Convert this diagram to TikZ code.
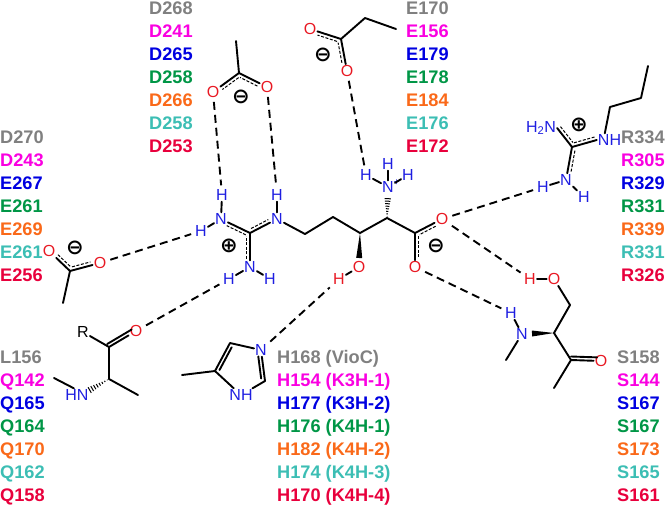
\documentclass[tikz,border=0pt]{standalone}
\usepackage{fontspec}
\setmainfont{Liberation Sans}
\newfontfamily\chargefont{DejaVu Sans}
\usetikzlibrary{calc}
\definecolor{resmag}{RGB}{250,0,225}
\definecolor{resblue}{RGB}{0,0,225}
\definecolor{resgreen}{RGB}{0,150,70}
\definecolor{resorange}{RGB}{250,105,25}
\definecolor{resteal}{RGB}{60,190,180}
\definecolor{rescrim}{RGB}{232,0,60}
\definecolor{atomred}{RGB}{232,25,35}
\definecolor{atomblue}{RGB}{30,30,225}
\tikzset{
	res/.style={anchor=base west, inner sep=0pt, font=\fontsize{18.2}{20}\selectfont\bfseries},
	atom/.style={inner sep=1pt, font=\fontsize{16}{17}\selectfont},
	oatom/.style={atom, text=atomred},
	natom/.style={atom, text=atomblue},
	charge/.style={inner sep=0pt, font=\fontsize{21}{22}\selectfont\chargefont\bfseries},
	bond/.style={line width=1.9pt, line cap=round, line join=round},
	hbond/.style={line width=1.9pt, dash pattern=on 8pt off 5pt, shorten <=3pt, shorten >=3pt},
	deloc/.style={line width=1pt, dash pattern=on 3pt off 1.6pt, shorten <=3pt, shorten >=3pt}
}
\def\sidebond[#1](#2)(#3){\draw[#1] ($(#2)!3.5pt!90:(#3)$) -- ($(#3)!3.5pt!-90:(#2)$);}
\def\wedgebond(#1)(#2){\fill ($(#2)!3pt!90:(#1)$) -- (#1) -- ($(#2)!3pt!-90:(#1)$) -- cycle;}
\def\hashbond(#1)(#2){\foreach \t in {0.08,0.2,...,1.0} {\draw[line width=1pt] ($(#1)!\t!(#2)!{\t*3.5pt}!90:(#2)$) -- ($(#1)!\t!(#2)!{\t*3.5pt}!-90:(#2)$);}}

\begin{document}
\begin{tikzpicture}[x=1pt, y=-1pt]
	\useasboundingbox (0, 0) rectangle (666, 504);
	%%%%% START %%%%%

	% top acetate
	\coordinate (acMe) at (236, 41);
	\coordinate (acC) at (239, 73);
	\node[oatom] (acOl) at (213, 92) {O};
	\node[oatom] (acOr) at (267, 87) {O};
	\node[charge] (acMinus) at (241, 97) {⊖};
	\draw[bond] (acMe) -- (acC);
	\draw[bond] (acC) -- (acOl);
	\draw[bond] (acC) -- (acOr);
	\sidebond[deloc, shorten >=9pt](acC)(acOl);
	\sidebond[deloc, shorten <=9pt](acOr)(acC);

	% top propionate
	\coordinate (prMe) at (396, 29);
	\coordinate (prCh) at (365, 18);
	\coordinate (prC) at (341, 39);
	\node[oatom] (prOl) at (310, 29) {O};
	\node[oatom] (prOb) at (347, 71) {O};
	\node[charge] (prMinus) at (323, 55) {⊖};
	\draw[bond] (prMe) -- (prCh) -- (prC);
	\draw[bond] (prC) -- (prOl);
	\draw[bond] (prC) -- (prOb);
	\sidebond[deloc, shorten >=9pt](prC)(prOl);
	\sidebond[deloc, shorten <=9pt](prOb)(prC);

	% left acetate
	\coordinate (laMe) at (63, 303);
	\coordinate (laC) at (70, 271);
	\node[oatom] (laOl) at (49, 251) {O};
	\node[oatom] (laOr) at (100, 263) {O};
	\node[charge] (laMinus) at (75, 248) {⊖};
	\draw[bond] (laMe) -- (laC);
	\draw[bond] (laC) -- (laOl);
	\draw[bond] (laC) -- (laOr);
	\sidebond[deloc, shorten <=9pt](laOl)(laC);
	\sidebond[deloc, shorten >=9pt](laC)(laOr);

	% guanidinium of the substrate
	\coordinate (guC) at (250, 233);
	\node[natom] (guNl) at (221, 219) {N};
	\node[natom] (guNr) at (277, 219) {N};
	\node[natom] (guNb) at (250, 267) {N};
	\node[natom] (guHa) at (222, 195) {H};
	\node[natom] (guHl) at (201, 231) {H};
	\node[natom] (guHb) at (277, 195) {H};
	\node[natom] (guHc) at (229, 279) {H};
	\node[natom] (guHd) at (270, 279) {H};
	\node[charge] (guPlus) at (229, 246) {⊕};
	\draw[bond] (guHa) -- (guNl);
	\draw[bond] (guHl) -- (guNl);
	\draw[bond] (guHb) -- (guNr);
	\draw[bond] (guHc) -- (guNb);
	\draw[bond] (guHd) -- (guNb);
	\draw[bond] (guNl) -- (guC);
	\draw[bond] (guNr) -- (guC);
	\draw[bond] (guNb) -- (guC);
	\sidebond[deloc, shorten >=8pt](guC)(guNl);
	\sidebond[deloc, shorten >=8pt](guC)(guNr);
	\sidebond[deloc, shorten <=8pt](guNb)(guC);

	% substrate chain
	\coordinate (chA) at (305, 234);
	\coordinate (chB) at (333, 217);
	\coordinate (chC) at (360, 233);
	\coordinate (chD) at (387, 218);
	\coordinate (chE) at (415, 233);
	\node[oatom] (subOt) at (442, 219) {O};
	\node[oatom] (subOb) at (415, 267) {O};
	\node[oatom] (subOh) at (359, 267) {O};
	\node[oatom] (subH) at (339, 279) {H};
	\node[natom] (subN) at (388, 187) {N};
	\node[natom, inner sep=0pt, font=\fontsize{10}{10}\selectfont] (subPlus) at (396.5, 183) {+};
	\node[natom] (subHt) at (388, 164) {H};
	\node[natom] (subHl) at (366, 175) {H};
	\node[natom] (subHr) at (408, 175) {H};
	\node[charge] (subMinus) at (436, 246) {⊖};
	\coordinate (subWo) at (359.2, 258);
	\coordinate (subWn) at (387.8, 197);
	\draw[bond] (guNr) -- (chA) -- (chB) -- (chC) -- (chD) -- (chE);
	\draw[bond] (chE) -- (subOt);
	\draw[bond] (chE) -- (subOb);
	\sidebond[deloc, shorten <=9pt](subOt)(chE);
	\sidebond[deloc, shorten >=9pt](chE)(subOb);
	\wedgebond(chC)(subWo);
	\hashbond(chD)(subWn);
	\draw[bond] (subHt) -- (subN);
	\draw[bond] (subHl) -- (subN);
	\draw[bond] (subHr) -- (subN);
	\draw[bond] (subOh) -- (subH);

	% arginine, top right
	\coordinate (arMe) at (648, 66);
	\coordinate (arCa) at (641, 98);
	\coordinate (arCb) at (610, 107);
	\coordinate (arC) at (572, 147);
	\node[natom] (arNt) at (541, 128) {H\textsubscript{2}N};
	\node[natom] (arNr) at (609.5, 140) {NH};
	\node[natom] (arNb) at (566, 180) {N};
	\node[natom] (arHl) at (543, 187) {H};
	\node[natom] (arHr) at (584, 197) {H};
	\node[charge] (arPlus) at (579, 125) {⊕};
	\coordinate (arNtb) at (arNt.east);
	\coordinate (arNrb) at (arNr.west);
	\draw[bond] (arMe) -- (arCa) -- (arCb) -- (arNr.125);
	\draw[bond] (arNtb) -- (arC);
	\draw[bond] (arNrb) -- (arC);
	\draw[bond] (arNb) -- (arC);
	\sidebond[deloc, shorten <=1pt](arNtb)(arC);
	\sidebond[deloc, shorten >=1pt](arC)(arNrb);
	\sidebond[deloc, shorten >=8pt](arC)(arNb);
	\draw[bond] (arHl) -- (arNb);
	\draw[bond] (arHr) -- (arNb);

	% serine, lower right
	\coordinate (seCh) at (570, 305);
	\coordinate (seCa) at (554, 333);
	\coordinate (seC) at (571, 360);
	\coordinate (seMe) at (554, 388);
	\coordinate (seMn) at (506, 360);
	\coordinate (seWn) at (532, 333.5);
	\node[oatom] (seOh) at (554, 279) {O};
	\node[oatom] (seH) at (530, 279) {H};
	\node[natom] (seN) at (522, 334) {N};
	\node[natom] (seHn) at (511, 313) {H};
	\node[oatom] (seO) at (601, 361) {O};
	\draw[bond] (seOh) -- (seCh) -- (seCa) -- (seC) -- (seMe);
	\draw[bond] (seOh) -- (seH);
	\draw[bond] (seC) -- (seO);
	\sidebond[bond, shorten >=4pt](seC)(seO);
	\wedgebond(seCa)(seWn);
	\draw[bond] (seN) -- (seMn);
	\draw[bond] (seN) -- (seHn);

	% peptide, lower left
	\coordinate (peC) at (109, 347);
	\coordinate (peCa) at (109, 379);
	\coordinate (peMe) at (138, 395);
	\coordinate (peMn) at (54, 378);
	\coordinate (peWn) at (88, 391);
	\node[atom] (peR) at (83, 332) {R};
	\node[oatom] (peO) at (136, 331) {O};
	\node[natom] (peN) at (77, 395) {HN};
	\draw[bond] (peR) -- (peC) -- (peCa) -- (peMe);
	\draw[bond] (peC) -- (peO);
	\sidebond[bond, shorten >=3pt](peC)(peO);
	\hashbond(peCa)(peWn);
	\draw[bond] (peMn) -- (peN.115);

	% imidazole
	\coordinate (imMe) at (182, 375);
	\coordinate (imCl) at (215, 371);
	\coordinate (imCt) at (230, 343);
	\coordinate (imCr) at (265, 381);
	\node[natom] (imN) at (261, 350) {N};
	\node[natom] (imNh) at (241, 395) {NH};
	\draw[bond] (imMe) -- (imCl) -- (imCt) -- (imN);
	\draw[bond] (imN) -- (imCr) -- (imNh);
	\draw[bond] (imNh) -- (imCl);
	\sidebond[bond, shorten <=3pt, shorten >=3pt](imCt)(imCl);
	\sidebond[bond, shorten <=3pt, shorten >=6pt](imCr)(imN);

	% hydrogen bonds
	\draw[hbond] (acOl) -- (guHa);
	\draw[hbond] (acOr) -- (guHb);
	\draw[hbond] (prOb) -- (subHl);
	\draw[hbond] (laOr) -- (guHl);
	\draw[hbond] (peO) -- (guHc);
	\draw[hbond] (imN) -- (subH);
	\draw[hbond] (subOt) -- (arHl);
	\draw[hbond] (subOt) -- (seH);
	\draw[hbond] (subOb) -- (seHn);

	% residue labels
	\node[res, text=gray] (dGray) at (149, 14) {D268};
	\node[res, text=resmag] (dMag) at (149, 37) {D241};
	\node[res, text=resblue] (dBlue) at (149, 60) {D265};
	\node[res, text=resgreen] (dGreen) at (149, 83) {D258};
	\node[res, text=resorange] (dOrange) at (149, 106) {D266};
	\node[res, text=resteal] (dTeal) at (149, 129) {D258};
	\node[res, text=rescrim] (dCrim) at (149, 152) {D253};

	\node[res, text=gray] (eGray) at (406, 14) {E170};
	\node[res, text=resmag] (eMag) at (406, 37) {E156};
	\node[res, text=resblue] (eBlue) at (406, 60) {E179};
	\node[res, text=resgreen] (eGreen) at (406, 83) {E178};
	\node[res, text=resorange] (eOrange) at (406, 106) {E184};
	\node[res, text=resteal] (eTeal) at (406, 129) {E176};
	\node[res, text=rescrim] (eCrim) at (406, 152) {E172};

	\node[res, text=gray] (lGray) at (0, 143) {D270};
	\node[res, text=resmag] (lMag) at (0, 166) {D243};
	\node[res, text=resblue] (lBlue) at (0, 189) {E267};
	\node[res, text=resgreen] (lGreen) at (0, 212) {E261};
	\node[res, text=resorange] (lOrange) at (0, 235) {E269};
	\node[res, text=resteal] (lTeal) at (0, 258) {E261};
	\node[res, text=rescrim] (lCrim) at (0, 281) {E256};

	\node[res, text=gray] (rGray) at (621, 143) {R334};
	\node[res, text=resmag] (rMag) at (621, 166) {R305};
	\node[res, text=resblue] (rBlue) at (621, 189) {R329};
	\node[res, text=resgreen] (rGreen) at (621, 212) {R331};
	\node[res, text=resorange] (rOrange) at (621, 235) {R339};
	\node[res, text=resteal] (rTeal) at (621, 258) {R331};
	\node[res, text=rescrim] (rCrim) at (621, 281) {R326};

	\node[res, text=gray] (qGray) at (0, 363) {L156};
	\node[res, text=resmag] (qMag) at (0, 386) {Q142};
	\node[res, text=resblue] (qBlue) at (0, 409) {Q165};
	\node[res, text=resgreen] (qGreen) at (0, 432) {Q164};
	\node[res, text=resorange] (qOrange) at (0, 455) {Q170};
	\node[res, text=resteal] (qTeal) at (0, 478) {Q162};
	\node[res, text=rescrim] (qCrim) at (0, 501) {Q158};

	\node[res, text=gray] (hGray) at (277, 363) {H168 (VioC)};
	\node[res, text=resmag] (hMag) at (277, 386) {H154 (K3H-1)};
	\node[res, text=resblue] (hBlue) at (277, 409) {H177 (K3H-2)};
	\node[res, text=resgreen] (hGreen) at (277, 432) {H176 (K4H-1)};
	\node[res, text=resorange] (hOrange) at (277, 455) {H182 (K4H-2)};
	\node[res, text=resteal] (hTeal) at (277, 478) {H174 (K4H-3)};
	\node[res, text=rescrim] (hCrim) at (277, 501) {H170 (K4H-4)};

	\node[res, text=gray] (sGray) at (617, 363) {S158};
	\node[res, text=resmag] (sMag) at (617, 386) {S144};
	\node[res, text=resblue] (sBlue) at (617, 409) {S167};
	\node[res, text=resgreen] (sGreen) at (617, 432) {S167};
	\node[res, text=resorange] (sOrange) at (617, 455) {S173};
	\node[res, text=resteal] (sTeal) at (617, 478) {S165};
	\node[res, text=rescrim] (sCrim) at (617, 501) {S161};

	%%%%% END %%%%%
\end{tikzpicture}
\end{document}
